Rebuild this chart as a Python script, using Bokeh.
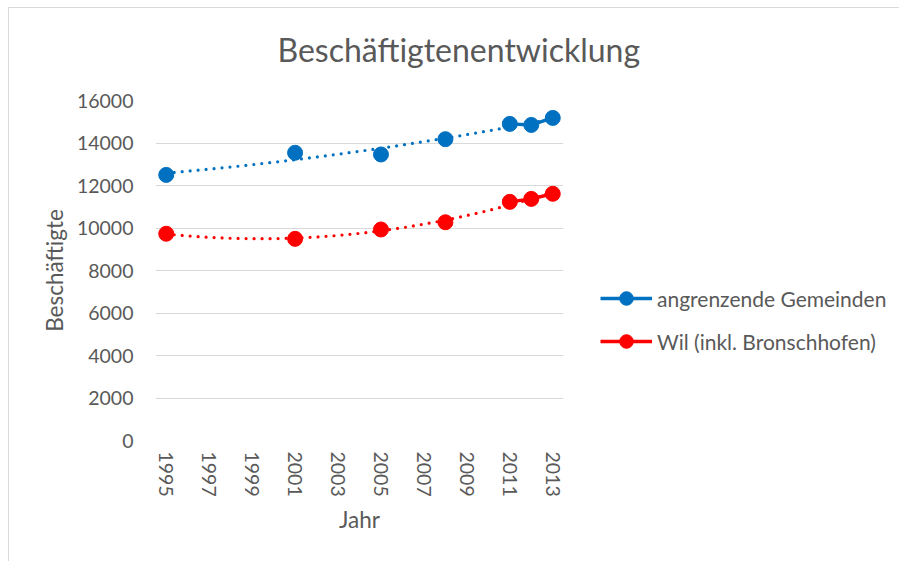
import numpy as np
from bokeh.plotting import figure
from bokeh.models import (FixedTicker, Legend, LegendItem, Title, Range1d)
from bokeh.embed import file_html
from bokeh.resources import INLINE

# ---- data ----
years = [1995, 2001, 2005, 2008, 2011, 2012, 2013]
gemeinden = [12500, 13540, 13460, 14180, 14900, 14850, 15180]
wil = [9730, 9490, 9930, 10270, 11230, 11370, 11610]
series_names = ["angrenzende Gemeinden", "Wil (inkl. Bronschhofen)"]
x_ticks = [1995, 1997, 1999, 2001, 2003, 2005, 2007, 2009, 2011, 2013]
y_ticks = [0, 2000, 4000, 6000, 8000, 10000, 12000, 14000, 16000]

TXT = "#595959"
FONT = "Lato"
BLUE = "#0070C0"
RED = "#FF0000"

W, H = 890, 553
FL, FT, FW, FH = 146, 92, 408, 340
p = figure(frame_width=FW, frame_height=FH, output_backend="svg", toolbar_location=None,
           x_range=Range1d(1994.5, 2013.5), y_range=Range1d(0, 16000),
           min_border_left=FL, min_border_right=W - FL - FW,
           min_border_top=FT, min_border_bottom=H - FT - FH)
p.styles = {"margin-left": "8px", "margin-top": "7px",
            "border-left": "1px solid #d9d9d9", "border-top": "1px solid #d9d9d9"}
p.outline_line_color = None
p.background_fill_color = "white"
p.border_fill_color = "white"

p.title = Title(text="Beschäftigtenentwicklung", align="left", offset=122,
                text_font=FONT, text_font_size="32px", text_color=TXT,
                text_font_style="normal", vertical_align="top", standoff=0,
                padding={"left": 0, "right": 0, "top": 20, "bottom": 30})

# axes
p.xaxis.ticker = FixedTicker(ticks=x_ticks)
p.yaxis.ticker = FixedTicker(ticks=y_ticks)
for ax in (p.xaxis, p.yaxis):
    ax.axis_line_color = None
    ax.major_tick_line_color = None
    ax.minor_tick_line_color = None
    ax.major_tick_out = 0
    ax.major_tick_in = 0
    ax.major_label_text_color = TXT
    ax.major_label_text_font = FONT
    ax.major_label_text_font_size = "19.5px"
    ax.axis_label_text_color = TXT
    ax.axis_label_text_font = FONT
    ax.axis_label_text_font_size = "22.5px"
    ax.axis_label_text_font_style = "normal"
p.xaxis.major_label_orientation = "vertical"
p.xaxis.major_label_standoff = 11
p.xaxis.axis_label = "Jahr"
p.xaxis.axis_label_standoff = 6
p.yaxis.major_label_standoff = 22
p.yaxis.axis_label = "Beschäftigte"
p.yaxis.axis_label_standoff = 6

p.xgrid.grid_line_color = None
p.ygrid.grid_line_color = "#d9d9d9"
p.ygrid.grid_line_width = 1

items = []
for vals, color, name in ((gemeinden, BLUE, series_names[0]), (wil, RED, series_names[1])):
    # polynomial (order 2) trend line, like the spreadsheet trendline
    coef = np.polyfit(years, vals, 2)
    tx = np.linspace(years[0], years[-1], 200)
    ty = np.polyval(coef, tx)
    p.line(tx, ty, line_color=color, line_width=3.2, line_dash="0 8", line_cap="round")
    # yearly series with gaps where there is no value
    full_years = list(range(years[0], years[-1] + 1))
    lookup = dict(zip(years, vals))
    full_vals = [lookup.get(y, np.nan) for y in full_years]
    lr = p.line(full_years, full_vals, line_color=color, line_width=3.5, line_join="round")
    sr = p.scatter(years, vals, size=15, color=color, marker="circle")
    items.append(LegendItem(label=name, renderers=[lr, sr]))

legend = Legend(items=items, location=(37, 82), orientation="vertical",
                glyph_width=52, glyph_height=34, spacing=9, padding=0, margin=0,
                label_standoff=5, label_text_font=FONT, label_text_font_size="21px",
                label_text_color=TXT, border_line_color=None, background_fill_alpha=0)
p.add_layout(legend, "right")

open("out.html", "w").write(file_html(p, INLINE))
